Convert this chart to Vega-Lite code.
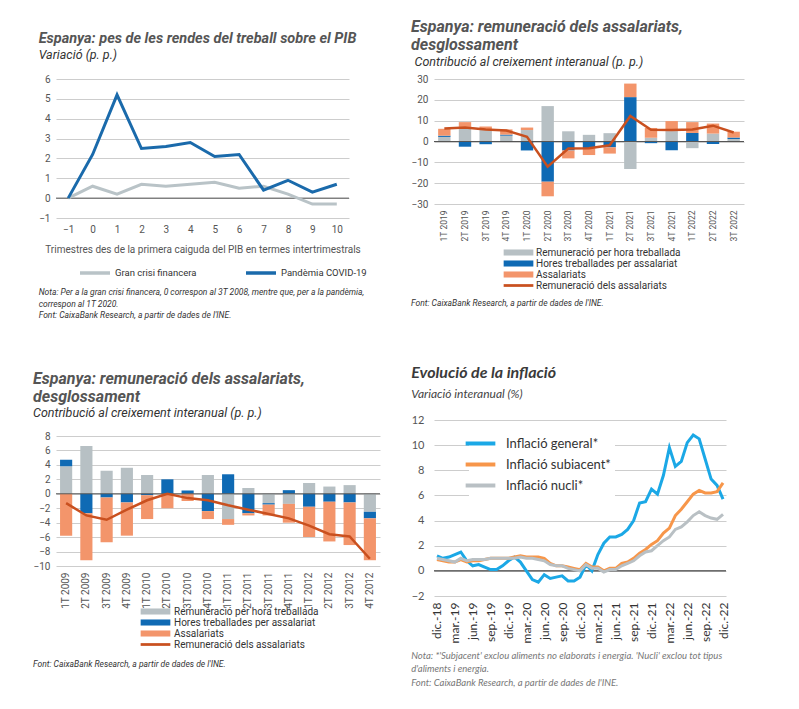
{
  "$schema": "https://vega.github.io/schema/vega-lite/v6.json",
  "padding": {"left": 33, "top": 19, "right": 5, "bottom": 5},
  "config": {
    "font": "Roboto",
    "view": {"stroke": null},
    "axis": {"labelColor": "#555", "labelFontSize": 10, "gridColor": "#cdcdcd", "gridWidth": 1, "domain": false, "ticks": false, "titleFontWeight": "normal", "titleColor": "#555", "labelPadding": 6, "labelOverlap": false},
    "legend": {"title": null, "labelColor": "#333", "labelFontSize": 10, "padding": 0},
    "title": {"font": "Roboto", "fontSize": 15, "fontStyle": "italic", "fontWeight": "bold", "color": "#555", "subtitleFont": "Roboto", "subtitleFontSize": 12.5, "subtitleFontStyle": "italic", "subtitleColor": "#333", "anchor": "start", "frame": "bounds", "offset": 12, "subtitlePadding": 2}
  },
  "datasets": {
    "pib": [
      {"t": -1, "s": "Gran crisi financera", "v": 0}, {"t": 0, "s": "Gran crisi financera", "v": 0.6}, {"t": 1, "s": "Gran crisi financera", "v": 0.2}, {"t": 2, "s": "Gran crisi financera", "v": 0.7}, {"t": 3, "s": "Gran crisi financera", "v": 0.6}, {"t": 4, "s": "Gran crisi financera", "v": 0.7}, {"t": 5, "s": "Gran crisi financera", "v": 0.8}, {"t": 6, "s": "Gran crisi financera", "v": 0.5}, {"t": 7, "s": "Gran crisi financera", "v": 0.6}, {"t": 8, "s": "Gran crisi financera", "v": 0.2}, {"t": 9, "s": "Gran crisi financera", "v": -0.3}, {"t": 10, "s": "Gran crisi financera", "v": -0.3},
      {"t": -1, "s": "Pandèmia COVID-19", "v": 0}, {"t": 0, "s": "Pandèmia COVID-19", "v": 2.2}, {"t": 1, "s": "Pandèmia COVID-19", "v": 5.2}, {"t": 2, "s": "Pandèmia COVID-19", "v": 2.5}, {"t": 3, "s": "Pandèmia COVID-19", "v": 2.6}, {"t": 4, "s": "Pandèmia COVID-19", "v": 2.8}, {"t": 5, "s": "Pandèmia COVID-19", "v": 2.1}, {"t": 6, "s": "Pandèmia COVID-19", "v": 2.2}, {"t": 7, "s": "Pandèmia COVID-19", "v": 0.4}, {"t": 8, "s": "Pandèmia COVID-19", "v": 0.9}, {"t": 9, "s": "Pandèmia COVID-19", "v": 0.3}, {"t": 10, "s": "Pandèmia COVID-19", "v": 0.7}
    ],
    "b19": [
      {"q": "1T 2019", "s": "Remuneració per hora treballada", "v": 2.2}, {"q": "1T 2019", "s": "Hores treballades per assalariat", "v": 0.6}, {"q": "1T 2019", "s": "Assalariats", "v": 3.3},
      {"q": "2T 2019", "s": "Remuneració per hora treballada", "v": 7.0}, {"q": "2T 2019", "s": "Hores treballades per assalariat", "v": -2.5}, {"q": "2T 2019", "s": "Assalariats", "v": 2.3},
      {"q": "3T 2019", "s": "Remuneració per hora treballada", "v": 5.5}, {"q": "3T 2019", "s": "Hores treballades per assalariat", "v": -1.3}, {"q": "3T 2019", "s": "Assalariats", "v": 1.7},
      {"q": "4T 2019", "s": "Remuneració per hora treballada", "v": 2.8}, {"q": "4T 2019", "s": "Hores treballades per assalariat", "v": 0.5}, {"q": "4T 2019", "s": "Assalariats", "v": 2.5},
      {"q": "1T 2020", "s": "Remuneració per hora treballada", "v": 5.5}, {"q": "1T 2020", "s": "Hores treballades per assalariat", "v": -4.3}, {"q": "1T 2020", "s": "Assalariats", "v": 1.2},
      {"q": "2T 2020", "s": "Remuneració per hora treballada", "v": 17.0}, {"q": "2T 2020", "s": "Hores treballades per assalariat", "v": -19.3}, {"q": "2T 2020", "s": "Assalariats", "v": -7.0},
      {"q": "3T 2020", "s": "Remuneració per hora treballada", "v": 4.9}, {"q": "3T 2020", "s": "Hores treballades per assalariat", "v": -4.3}, {"q": "3T 2020", "s": "Assalariats", "v": -3.8},
      {"q": "4T 2020", "s": "Remuneració per hora treballada", "v": 3.2}, {"q": "4T 2020", "s": "Hores treballades per assalariat", "v": -3.2}, {"q": "4T 2020", "s": "Assalariats", "v": -3.3},
      {"q": "1T 2021", "s": "Remuneració per hora treballada", "v": 4.0}, {"q": "1T 2021", "s": "Hores treballades per assalariat", "v": -2.8}, {"q": "1T 2021", "s": "Assalariats", "v": -3.0},
      {"q": "2T 2021", "s": "Remuneració per hora treballada", "v": -13.2}, {"q": "2T 2021", "s": "Hores treballades per assalariat", "v": 21.3}, {"q": "2T 2021", "s": "Assalariats", "v": 6.5},
      {"q": "3T 2021", "s": "Remuneració per hora treballada", "v": 1.8}, {"q": "3T 2021", "s": "Hores treballades per assalariat", "v": -0.8}, {"q": "3T 2021", "s": "Assalariats", "v": 4.7},
      {"q": "4T 2021", "s": "Remuneració per hora treballada", "v": 5.0}, {"q": "4T 2021", "s": "Hores treballades per assalariat", "v": -4.2}, {"q": "4T 2021", "s": "Assalariats", "v": 4.8},
      {"q": "1T 2022", "s": "Remuneració per hora treballada", "v": -3.2}, {"q": "1T 2022", "s": "Hores treballades per assalariat", "v": 4.1}, {"q": "1T 2022", "s": "Assalariats", "v": 5.2},
      {"q": "2T 2022", "s": "Remuneració per hora treballada", "v": 3.8}, {"q": "2T 2022", "s": "Hores treballades per assalariat", "v": -1.2}, {"q": "2T 2022", "s": "Assalariats", "v": 4.8},
      {"q": "3T 2022", "s": "Remuneració per hora treballada", "v": 1.2}, {"q": "3T 2022", "s": "Hores treballades per assalariat", "v": 0.7}, {"q": "3T 2022", "s": "Assalariats", "v": 2.8}
    ],
    "l19": [
      {"q": "1T 2019", "v": 6.2}, {"q": "2T 2019", "v": 6.7}, {"q": "3T 2019", "v": 5.8}, {"q": "4T 2019", "v": 5.3}, {"q": "1T 2020", "v": 2.3}, {"q": "2T 2020", "v": -12.1}, {"q": "3T 2020", "v": -3.4}, {"q": "4T 2020", "v": -3.2}, {"q": "1T 2021", "v": -1.8}, {"q": "2T 2021", "v": 12.2}, {"q": "3T 2021", "v": 5.6}, {"q": "4T 2021", "v": 5.5}, {"q": "1T 2022", "v": 5.8}, {"q": "2T 2022", "v": 7.6}, {"q": "3T 2022", "v": 4.3}
    ],
    "b09": [
      {"q": "1T 2009", "s": "Remuneració per hora treballada", "v": 3.8}, {"q": "1T 2009", "s": "Hores treballades per assalariat", "v": 0.9}, {"q": "1T 2009", "s": "Assalariats", "v": -5.8},
      {"q": "2T 2009", "s": "Remuneració per hora treballada", "v": 6.6}, {"q": "2T 2009", "s": "Hores treballades per assalariat", "v": -2.7}, {"q": "2T 2009", "s": "Assalariats", "v": -6.5},
      {"q": "3T 2009", "s": "Remuneració per hora treballada", "v": 3.2}, {"q": "3T 2009", "s": "Hores treballades per assalariat", "v": -0.5}, {"q": "3T 2009", "s": "Assalariats", "v": -6.2},
      {"q": "4T 2009", "s": "Remuneració per hora treballada", "v": 3.6}, {"q": "4T 2009", "s": "Hores treballades per assalariat", "v": -1.2}, {"q": "4T 2009", "s": "Assalariats", "v": -4.6},
      {"q": "1T 2010", "s": "Remuneració per hora treballada", "v": 2.6}, {"q": "1T 2010", "s": "Hores treballades per assalariat", "v": -0.2}, {"q": "1T 2010", "s": "Assalariats", "v": -3.3},
      {"q": "2T 2010", "s": "Remuneració per hora treballada", "v": 0.0}, {"q": "2T 2010", "s": "Hores treballades per assalariat", "v": 2.0}, {"q": "2T 2010", "s": "Assalariats", "v": -2.0},
      {"q": "3T 2010", "s": "Remuneració per hora treballada", "v": 0.0}, {"q": "3T 2010", "s": "Hores treballades per assalariat", "v": 0.45}, {"q": "3T 2010", "s": "Assalariats", "v": -1.0},
      {"q": "4T 2010", "s": "Remuneració per hora treballada", "v": 2.6}, {"q": "4T 2010", "s": "Hores treballades per assalariat", "v": -2.4}, {"q": "4T 2010", "s": "Assalariats", "v": -1.1},
      {"q": "1T 2011", "s": "Remuneració per hora treballada", "v": -3.5}, {"q": "1T 2011", "s": "Hores treballades per assalariat", "v": 2.7}, {"q": "1T 2011", "s": "Assalariats", "v": -0.8},
      {"q": "2T 2011", "s": "Remuneració per hora treballada", "v": 0.8}, {"q": "2T 2011", "s": "Hores treballades per assalariat", "v": -2.7}, {"q": "2T 2011", "s": "Assalariats", "v": -0.3},
      {"q": "3T 2011", "s": "Remuneració per hora treballada", "v": -1.3}, {"q": "3T 2011", "s": "Hores treballades per assalariat", "v": -0.2}, {"q": "3T 2011", "s": "Assalariats", "v": -1.5},
      {"q": "4T 2011", "s": "Remuneració per hora treballada", "v": -1.4}, {"q": "4T 2011", "s": "Hores treballades per assalariat", "v": 0.5}, {"q": "4T 2011", "s": "Assalariats", "v": -2.6},
      {"q": "1T 2012", "s": "Remuneració per hora treballada", "v": 1.5}, {"q": "1T 2012", "s": "Hores treballades per assalariat", "v": -1.8}, {"q": "1T 2012", "s": "Assalariats", "v": -4.2},
      {"q": "2T 2012", "s": "Remuneració per hora treballada", "v": 1.0}, {"q": "2T 2012", "s": "Hores treballades per assalariat", "v": -1.1}, {"q": "2T 2012", "s": "Assalariats", "v": -5.5},
      {"q": "3T 2012", "s": "Remuneració per hora treballada", "v": 1.2}, {"q": "3T 2012", "s": "Hores treballades per assalariat", "v": -1.2}, {"q": "3T 2012", "s": "Assalariats", "v": -5.9},
      {"q": "4T 2012", "s": "Remuneració per hora treballada", "v": -2.5}, {"q": "4T 2012", "s": "Hores treballades per assalariat", "v": -0.9}, {"q": "4T 2012", "s": "Assalariats", "v": -5.8}
    ],
    "l09": [
      {"q": "1T 2009", "v": -1.3}, {"q": "2T 2009", "v": -3.0}, {"q": "3T 2009", "v": -3.6}, {"q": "4T 2009", "v": -2.2}, {"q": "1T 2010", "v": -0.9}, {"q": "2T 2010", "v": 0.0}, {"q": "3T 2010", "v": -0.6}, {"q": "4T 2010", "v": -0.9}, {"q": "1T 2011", "v": -1.6}, {"q": "2T 2011", "v": -2.2}, {"q": "3T 2011", "v": -2.8}, {"q": "4T 2011", "v": -3.4}, {"q": "1T 2012", "v": -4.4}, {"q": "2T 2012", "v": -5.6}, {"q": "3T 2012", "v": -5.9}, {"q": "4T 2012", "v": -9.0}
    ],
    "inf": [
      {"m": "dic.-18", "g": 1.2, "sub": 0.9, "nuc": 1.0}, {"m": "ene.-19", "g": 1.0, "sub": 0.8, "nuc": 0.9}, {"m": "feb.-19", "g": 1.1, "sub": 0.7, "nuc": 0.8}, {"m": "mar.-19", "g": 1.3, "sub": 0.7, "nuc": 0.7}, {"m": "abr.-19", "g": 1.5, "sub": 0.9, "nuc": 1.0}, {"m": "may.-19", "g": 0.8, "sub": 0.7, "nuc": 0.8}, {"m": "jun.-19", "g": 0.4, "sub": 0.8, "nuc": 0.9}, {"m": "jul.-19", "g": 0.5, "sub": 0.8, "nuc": 0.9}, {"m": "ago.-19", "g": 0.3, "sub": 0.9, "nuc": 0.9}, {"m": "sep.-19", "g": 0.1, "sub": 1.0, "nuc": 1.0}, {"m": "oct.-19", "g": 0.1, "sub": 1.0, "nuc": 1.0}, {"m": "nov.-19", "g": 0.4, "sub": 1.0, "nuc": 1.0},
      {"m": "dic.-19", "g": 0.8, "sub": 1.0, "nuc": 1.0}, {"m": "ene.-20", "g": 1.1, "sub": 1.1, "nuc": 1.0}, {"m": "feb.-20", "g": 0.7, "sub": 1.2, "nuc": 1.1}, {"m": "mar.-20", "g": 0.0, "sub": 1.1, "nuc": 1.0}, {"m": "abr.-20", "g": -0.7, "sub": 1.1, "nuc": 1.0}, {"m": "may.-20", "g": -0.9, "sub": 1.1, "nuc": 0.9}, {"m": "jun.-20", "g": -0.3, "sub": 1.0, "nuc": 0.8}, {"m": "jul.-20", "g": -0.6, "sub": 0.6, "nuc": 0.5}, {"m": "ago.-20", "g": -0.5, "sub": 0.4, "nuc": 0.4}, {"m": "sep.-20", "g": -0.4, "sub": 0.4, "nuc": 0.4}, {"m": "oct.-20", "g": -0.8, "sub": 0.3, "nuc": 0.2}, {"m": "nov.-20", "g": -0.8, "sub": 0.2, "nuc": 0.1},
      {"m": "dic.-20", "g": -0.5, "sub": 0.1, "nuc": 0.0}, {"m": "ene.-21", "g": 0.5, "sub": 0.6, "nuc": 0.5}, {"m": "feb.-21", "g": 0.0, "sub": 0.3, "nuc": 0.2}, {"m": "mar.-21", "g": 1.3, "sub": 0.3, "nuc": 0.2}, {"m": "abr.-21", "g": 2.2, "sub": 0.0, "nuc": -0.1}, {"m": "may.-21", "g": 2.7, "sub": 0.2, "nuc": 0.1}, {"m": "jun.-21", "g": 2.7, "sub": 0.2, "nuc": 0.1}, {"m": "jul.-21", "g": 2.9, "sub": 0.6, "nuc": 0.4}, {"m": "ago.-21", "g": 3.3, "sub": 0.7, "nuc": 0.6}, {"m": "sep.-21", "g": 4.0, "sub": 1.0, "nuc": 0.8}, {"m": "oct.-21", "g": 5.4, "sub": 1.4, "nuc": 1.2}, {"m": "nov.-21", "g": 5.5, "sub": 1.7, "nuc": 1.5},
      {"m": "dic.-21", "g": 6.5, "sub": 2.1, "nuc": 1.6}, {"m": "ene.-22", "g": 6.1, "sub": 2.4, "nuc": 2.0}, {"m": "feb.-22", "g": 7.6, "sub": 3.0, "nuc": 2.4}, {"m": "mar.-22", "g": 9.8, "sub": 3.4, "nuc": 2.7}, {"m": "abr.-22", "g": 8.3, "sub": 4.4, "nuc": 3.3}, {"m": "may.-22", "g": 8.7, "sub": 4.9, "nuc": 3.5}, {"m": "jun.-22", "g": 10.2, "sub": 5.5, "nuc": 3.9}, {"m": "jul.-22", "g": 10.8, "sub": 6.1, "nuc": 4.4}, {"m": "ago.-22", "g": 10.5, "sub": 6.4, "nuc": 4.7}, {"m": "sep.-22", "g": 8.9, "sub": 6.2, "nuc": 4.4}, {"m": "oct.-22", "g": 7.3, "sub": 6.2, "nuc": 4.2}, {"m": "nov.-22", "g": 6.8, "sub": 6.3, "nuc": 4.1},
      {"m": "dic.-22", "g": 5.7, "sub": 7.0, "nuc": 4.5}
    ],
    "zero": [{"z": 0}]
  },
  "resolve": {"scale": {"color": "independent"}, "legend": {"color": "independent"}},
  "spacing": 30,
  "hconcat": [
    {
      "resolve": {"scale": {"color": "independent"}, "legend": {"color": "independent"}},
      "spacing": 50,
      "vconcat": [
        {
          "title": {"text": ["Nota: Per a la gran crisi financera, 0 correspon al 3T 2008, mentre que, per a la pandèmia,", "correspon al 1T 2020.", "Font: CaixaBank Research, a partir de dades de l'INE."], "orient": "bottom", "anchor": "start", "frame": "bounds", "fontSize": 8.5, "fontStyle": "italic", "fontWeight": "normal", "color": "#333", "lineHeight": 11.5, "offset": 8},
          "vconcat": [
            {
              "title": {"text": "Espanya: pes de les rendes del treball sobre el PIB", "subtitle": "Variació (p. p.)", "fontSize": 14.5},
              "width": 293,
              "height": 139,
              "layer": [
                {"data": {"name": "zero"}, "mark": {"type": "rule", "color": "#555", "strokeWidth": 1}, "encoding": {"y": {"field": "z", "type": "quantitative"}}},
                {
                  "data": {"name": "pib"},
                  "mark": {"type": "line", "strokeWidth": 3},
                  "encoding": {
                    "x": {"field": "t", "type": "quantitative", "scale": {"domain": [-1.5, 10.5], "nice": false}, "axis": {"values": [-1, 0, 1, 2, 3, 4, 5, 6, 7, 8, 9, 10], "tickCount": 30, "format": "d", "grid": false, "title": "Trimestres des de la primera caiguda del PIB en termes intertrimestrals", "titleFontSize": 10, "titlePadding": 10}},
                    "y": {"field": "v", "type": "quantitative", "scale": {"domain": [-1, 6], "nice": false}, "axis": {"values": [-1, 0, 1, 2, 3, 4, 5, 6], "tickCount": 30, "format": "d", "title": null}},
                    "color": {"field": "s", "type": "nominal", "scale": {"domain": ["Gran crisi financera", "Pandèmia COVID-19"], "range": ["#b9c3c7", "#1a6aab"]}, "legend": {"orient": "none", "legendX": 31, "legendY": 186, "direction": "vertical", "columns": 2, "symbolType": "M-2.5,0H2.5", "symbolStrokeWidth": 3.5, "symbolSize": 144, "labelOffset": 12, "columnPadding": 42, "labelFontSize": 9.5}}
                  }
                }
              ]
            }
          ]
        },
        {
          "title": {"text": "Font: CaixaBank Research, a partir de dades de l'INE.", "orient": "bottom", "anchor": "start", "frame": "bounds", "fontSize": 8.5, "fontStyle": "italic", "fontWeight": "normal", "color": "#333", "offset": 10},
          "vconcat": [
            {
              "title": {"text": ["Espanya: remuneració dels assalariats,", "desglossament"], "subtitle": "Contribució al creixement interanual (p. p.)", "lineHeight": 18, "fontSize": 16},
              "width": 324,
              "height": 130,
              "layer": [
                {
                  "data": {"name": "b09"},
                  "mark": {"type": "bar"},
                  "encoding": {
                    "x": {"field": "q", "type": "nominal", "sort": null, "scale": {"paddingInner": 0.4, "paddingOuter": 0.2}, "axis": {"title": null, "labelAngle": -90, "labelFontSize": 10}},
                    "y": {"field": "v", "type": "quantitative", "stack": "zero", "scale": {"domain": [-10, 8], "nice": false}, "axis": {"values": [-10, -8, -6, -4, -2, 0, 2, 4, 6, 8], "tickCount": 30, "format": "d", "title": null}},
                    "color": {"field": "s", "type": "nominal", "scale": {"domain": ["Remuneració per hora treballada", "Hores treballades per assalariat", "Assalariats", "Remuneració dels assalariats"], "range": ["#b7c0c4", "#0f6ab4", "#f3956b", "#c9501f"]}, "legend": {"orient": "none", "legendX": 94, "legendY": 170, "direction": "vertical", "symbolType": "M-2.7,-0.55H2.7V0.55H-2.7Z", "symbolSize": 121, "symbolStrokeWidth": 0, "labelOffset": 13, "labelFontSize": 10, "rowPadding": 0, "encode": {"symbols": {"update": {"shape": {"signal": "datum.value === 'Remuneració dels assalariats' ? 'M-2.7,-0.25H2.7V0.25H-2.7Z' : 'M-2.7,-0.55H2.7V0.55H-2.7Z'"}}}}}},
                    "order": {"field": "s", "sort": "descending"}
                  }
                },
                {"data": {"name": "zero"}, "mark": {"type": "rule", "color": "#555", "strokeWidth": 1}, "encoding": {"y": {"field": "z", "type": "quantitative"}}},
                {
                  "data": {"name": "l09"},
                  "mark": {"type": "line", "strokeWidth": 2.5},
                  "encoding": {
                    "x": {"field": "q", "type": "nominal", "sort": null},
                    "y": {"field": "v", "type": "quantitative"},
                    "color": {"datum": "Remuneració dels assalariats"}
                  }
                }
              ]
            }
          ]
        }
      ]
    },
    {
      "resolve": {"scale": {"color": "independent"}, "legend": {"color": "independent"}},
      "spacing": 57,
      "vconcat": [
        {
          "title": {"text": "Font: CaixaBank Research, a partir de dades de l'INE.", "orient": "bottom", "anchor": "start", "frame": "bounds", "fontSize": 8.5, "fontStyle": "italic", "fontWeight": "normal", "color": "#333", "offset": 8},
          "vconcat": [
            {
              "title": {"text": ["Espanya: remuneració dels assalariats,", "desglossament"], "lineHeight": 18, "fontSize": 16, "offset": 2},
              "width": 310,
              "height": 125,
              "layer": [
                {
                  "data": {"name": "b19"},
                  "mark": {"type": "bar"},
                  "encoding": {
                    "x": {"field": "q", "type": "nominal", "sort": null, "scale": {"paddingInner": 0.4, "paddingOuter": 0.2}, "axis": {"title": null, "labelAngle": -90, "labelFontSize": 8.5}},
                    "y": {"field": "v", "type": "quantitative", "stack": "zero", "scale": {"domain": [-30, 30], "nice": false}, "axis": {"values": [-30, -20, -10, 0, 10, 20, 30], "tickCount": 30, "format": "d", "title": "Contribució al creixement interanual (p. p.)", "titleAngle": 0, "titleAlign": "left", "titleBaseline": "alphabetic", "titleX": -20, "titleY": -14, "titleFont": "Roboto", "titleFontSize": 12.5, "titleFontStyle": "italic", "titleFontWeight": "normal", "titleColor": "#333"}},
                    "color": {"field": "s", "type": "nominal", "scale": {"domain": ["Remuneració per hora treballada", "Hores treballades per assalariat", "Assalariats", "Remuneració dels assalariats"], "range": ["#b7c0c4", "#0f6ab4", "#f3956b", "#c9501f"]}, "legend": {"orient": "none", "legendX": 79, "legendY": 168, "direction": "vertical", "symbolType": "M-2.7,-0.55H2.7V0.55H-2.7Z", "symbolSize": 121, "symbolStrokeWidth": 0, "labelOffset": 12, "labelFontSize": 10, "rowPadding": 0, "encode": {"symbols": {"update": {"shape": {"signal": "datum.value === 'Remuneració dels assalariats' ? 'M-2.7,-0.25H2.7V0.25H-2.7Z' : 'M-2.7,-0.55H2.7V0.55H-2.7Z'"}}}}}},
                    "order": {"field": "s", "sort": "descending"}
                  }
                },
                {"data": {"name": "zero"}, "mark": {"type": "rule", "color": "#555", "strokeWidth": 1}, "encoding": {"y": {"field": "z", "type": "quantitative"}}},
                {
                  "data": {"name": "l19"},
                  "mark": {"type": "line", "strokeWidth": 2.5},
                  "encoding": {
                    "x": {"field": "q", "type": "nominal", "sort": null},
                    "y": {"field": "v", "type": "quantitative"},
                    "color": {"datum": "Remuneració dels assalariats"}
                  }
                }
              ]
            }
          ]
        },
        {
          "title": {"text": ["Nota: *'Subjacent' exclou aliments no elaborats i energia. 'Nucli' exclou tot tipus", "d'aliments i energia.", "Font: CaixaBank Research, a partir de dades de l'INE."], "orient": "bottom", "anchor": "start", "frame": "bounds", "font": "Lato", "fontSize": 9.5, "fontStyle": "italic", "fontWeight": "normal", "color": "#777", "lineHeight": 13.5, "offset": 8},
          "vconcat": [
            {
              "title": {"text": "Evolució de la inflació", "subtitle": "Variació interanual (%)", "font": "Lato", "fontSize": 16, "color": "#3a3a3a", "subtitleFont": "Lato", "subtitleFontSize": 12, "subtitleColor": "#444", "subtitlePadding": 8, "offset": 14},
              "width": 292,
              "height": 176,
              "layer": [
                {"data": {"name": "zero"}, "mark": {"type": "rule", "color": "#222", "strokeWidth": 1}, "encoding": {"y": {"field": "z", "type": "quantitative"}}},
                {
                  "data": {"name": "inf"},
                  "transform": [{"fold": ["g", "sub", "nuc"], "as": ["s", "v"]}],
                  "mark": {"type": "line", "strokeWidth": 3},
                  "encoding": {
                    "x": {"field": "m", "type": "ordinal", "sort": null, "axis": {"values": ["dic.-18", "mar.-19", "jun.-19", "sep.-19", "dic.-19", "mar.-20", "jun.-20", "sep.-20", "dic.-20", "mar.-21", "jun.-21", "sep.-21", "dic.-21", "mar.-22", "jun.-22", "sep.-22", "dic.-22"], "title": null, "labelAngle": -90, "labelFont": "Lato", "labelFontSize": 12, "labelColor": "#333", "grid": false}},
                    "y": {"field": "v", "type": "quantitative", "scale": {"domain": [-2, 12], "nice": false}, "axis": {"values": [-2, 0, 2, 4, 6, 8, 10, 12], "tickCount": 30, "format": "d", "title": null, "labelFont": "Lato", "labelFontSize": 11, "labelPadding": 10}},
                    "color": {"field": "s", "type": "nominal", "scale": {"domain": ["g", "sub", "nuc"], "range": ["#1ba8e6", "#f7964a", "#b9c0c4"]}, "legend": {"orient": "none", "legendX": 35, "legendY": 12, "direction": "vertical", "labelExpr": "datum.value == 'g' ? 'Inflació general*' : datum.value == 'sub' ? 'Inflació subiacent*' : 'Inflació nucli*'", "symbolType": "M-2.7,0H2.7", "symbolStrokeWidth": 4, "symbolSize": 121, "labelFont": "Lato", "labelFontSize": 13, "labelColor": "#333", "labelOffset": 18, "rowPadding": 4, "fillColor": "white", "padding": 4}},
                    "order": {"field": "s", "sort": "ascending"}
                  }
                }
              ]
            }
          ]
        }
      ]
    }
  ]
}
